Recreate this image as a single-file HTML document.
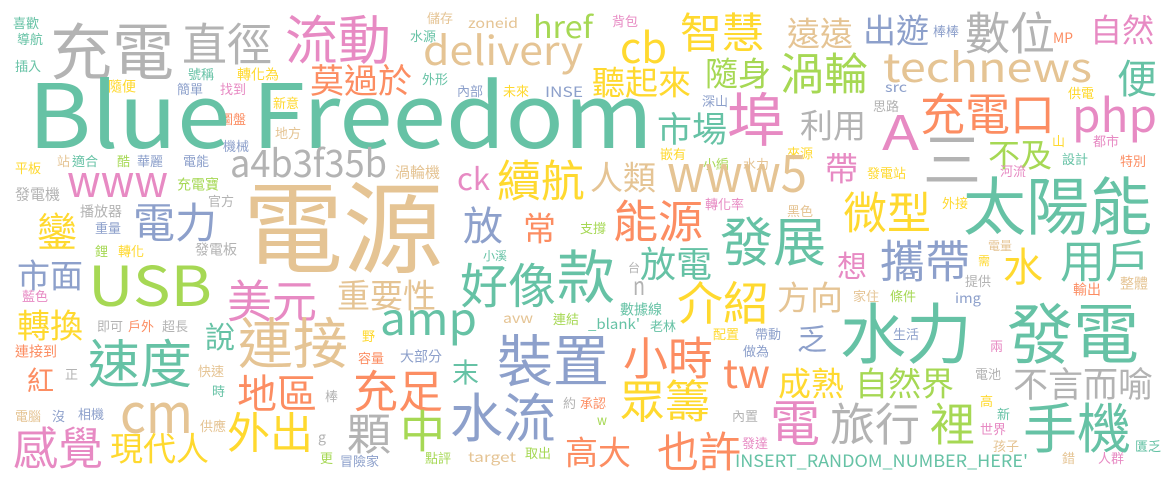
<!DOCTYPE html>
<html><head><meta charset="utf-8"><style>
html,body{margin:0;padding:0;background:#fff;width:1175px;height:482px;overflow:hidden}
svg{display:block}
text{font-family:"Noto Sans CJK TC","Liberation Sans",sans-serif;}
</style></head><body>
<svg id="cloud" width="1175" height="482" viewBox="0 0 1175 482"></svg>
<script>
// CJK words: text, x, glyph-top, size, colour key
const cjkWords = [
["電源",243,182,100,"N"],["充電",50,23,62,"R"],["直徑",182,23,45,"R"],["流動",285,15,53,"P"],
["莫過於",310,65,34,"O"],["鑾",37,213,40,"Y"],["電力",133,203,42,"B"],
["市面",17,260,33,"B"],["美元",227,280,45,"P"],["重要性",337,280,33,"N"],["轉換",17,310,33,"Y"],
["說",205,323,30,"T"],["連接",238,318,55,"N"],["速度",88,340,52,"T"],["紅",27,368,27,"O"],
["地區",237,375,40,"O"],["充足",353,370,45,"O"],["感覺",13,427,45,"P"],["現代人",110,433,33,"Y"],
["外出",227,413,43,"Y"],["顆",347,413,44,"R"],["中",400,410,45,"G"],["水流",450,393,53,"B"],
["裝置",497,335,56,"B"],["末",452,360,27,"T"],["好像",460,263,48,"T"],["款",557,250,58,"T"],
["放電",640,247,36,"T"],["小時",623,337,45,"O"],["眾籌",620,380,45,"Y"],["高大",565,437,33,"O"],
["也許",657,432,42,"O"],["聽起來",592,67,33,"Y"],["市場",657,113,35,"T"],["續航",497,160,44,"Y"],
["人類",590,162,33,"N"],["放",463,207,40,"B"],["常",523,213,33,"O"],["能源",613,200,45,"O"],
["智慧",680,13,42,"Y"],["遠遠",787,18,33,"N"],["出遊",863,15,33,"B"],["數位",965,12,45,"R"],
["自然",1090,15,32,"P"],["隨身",705,58,33,"G"],["渦輪",780,53,44,"G"],["便",1117,60,40,"T"],
["埠",727,93,58,"P"],["利用",800,110,33,"R"],["充電口",920,93,45,"O"],["不及",988,140,32,"G"],
["三",923,133,58,"R"],["帶",825,153,33,"P"],["太陽能",963,177,63,"T"],["微型",843,192,44,"Y"],
["發展",720,217,53,"T"],["想",837,252,30,"P"],["攜帶",880,240,45,"B"],["水",1003,248,40,"Y"],
["用戶",1060,240,45,"T"],["介紹",677,282,46,"Y"],["方向",777,282,33,"N"],["乏",797,325,30,"B"],
["水力",840,303,66,"T"],["發電",1007,303,66,"T"],["成熟",778,368,33,"Y"],["自然界",855,368,33,"G"],
["不言而喻",1013,368,35,"R"],["電",770,400,50,"P"],["旅行",830,403,45,"R"],["裡",930,403,45,"G"],
["手機",1023,403,54,"T"],
["喜歡",13,17,13,"T"],["導航",17,33,13,"T"],["插入",15,60,13,"T"],["號稱",188,68,13,"T"],
["轉化為",237,68,14,"Y"],["隨便",108,80,14,"Y"],["簡單",177,83,13,"B"],["找到",220,83,13,"P"],
["新意",273,97,13,"Y"],["圖盤",220,113,13,"O"],["地方",275,127,13,"N"],["機械",223,140,13,"B"],
["平板",15,162,13,"Y"],["站",57,155,13,"N"],["適合",72,155,13,"T"],["酷",117,155,13,"G"],
["華麗",137,155,13,"B"],["電能",183,155,13,"B"],["充電寶",177,178,14,"G"],["發電機",15,187,15,"R"],
["官方",208,195,13,"R"],["播放器",80,205,14,"R"],["重量",95,222,13,"B"],["鋰",95,245,13,"G"],
["轉化",118,245,13,"Y"],["發電板",195,243,14,"R"],["藍色",22,290,13,"P"],["即可",97,320,13,"R"],
["戶外",128,320,13,"O"],["超長",162,320,13,"R"],["連接到",15,345,14,"O"],["正",65,368,13,"R"],
["快速",198,365,13,"N"],["時",212,385,13,"T"],["容量",358,352,13,"O"],["野",362,330,13,"Y"],
["棒",325,390,13,"R"],["電腦",15,410,13,"N"],["沒",52,410,13,"B"],["相機",78,408,13,"B"],
["供應",200,420,13,"N"],["更",320,452,13,"G"],["冒險家",340,455,13,"B"],["儲存",427,12,13,"N"],
["水源",410,30,13,"T"],["背包",612,15,13,"P"],["外形",422,73,13,"T"],["內部",457,85,13,"B"],
["未來",503,85,13,"Y"],["嵌有",660,148,13,"Y"],["渦輪機",395,165,15,"N"],["支撐",580,222,13,"G"],
["小溪",483,250,12,"T"],["台",628,262,12,"R"],["數據線",620,303,14,"T"],["連結",553,313,13,"G"],
["老林",650,320,13,"T"],["大部分",400,350,14,"B"],["約",563,397,13,"R"],["承認",580,397,13,"O"],
["點評",425,452,13,"G"],["取出",525,447,13,"G"],["深山",702,95,13,"B"],["思路",873,100,13,"R"],
["供電",1068,87,13,"Y"],["棒棒",933,25,13,"B"],["山",1052,135,13,"Y"],["都市",1093,135,13,"P"],
["設計",1062,153,13,"T"],["特別",1120,155,13,"O"],["小編",703,158,13,"G"],["水力",743,158,13,"N"],
["來源",787,147,13,"Y"],["發電站",867,167,13,"Y"],["河流",1000,165,13,"P"],["轉化率",705,198,13,"P"],
["黑色",787,205,13,"N"],["外接",942,197,13,"Y"],["電量",988,240,12,"N"],["需",978,255,12,"Y"],
["提供",965,275,13,"R"],["整體",1120,277,14,"N"],["輸出",1073,283,14,"O"],["家住",853,290,13,"N"],
["條件",890,290,13,"G"],["配置",713,328,13,"Y"],["帶動",755,328,13,"B"],["做為",743,345,13,"B"],
["生活",893,328,13,"B"],["兩",990,340,13,"P"],["電池",975,368,13,"R"],["內置",732,410,13,"R"],
["高",980,395,13,"Y"],["新",997,408,13,"T"],["世界",980,423,13,"P"],["孩子",993,440,13,"N"],
["發達",742,437,13,"P"],["錯",1062,452,13,"N"],["人群",1098,452,13,"P"],["匱乏",1135,440,13,"T"]
];
// Latin words: text, x, baseline, size, colour key, width
const latinWords = [
["Blue Freedom",28,148,89,"T",625],["delivery",423,65,40,"N",160],["cb",620,63,42,"Y",47],
["href",533,38,30,"G",60],["technews",883,82,40,"N",209],["A",882,150,48,"P",37],
["php",1072,132,46,"P",85],["USB",88,306,55,"G",124],["www",67,197,44,"P",101],
["a4b3f35b",230,177,38,"R",157],["cm",120,433,55,"N",73],["amp",380,335,45,"T",97],
["www5",667,192,52,"N",140],["ck",457,190,30,"P",33],["n",633,295,25,"R",12],
["tw",723,388,40,"O",47],["zoneid",468,28,14,"N",50],["INSE",545,97,14,"B",38],
["src",885,92,14,"B",22],["img",955,303,14,"B",26],["_blank'",588,329,14,"T",52],
["avw",503,323,14,"N",30],["target",468,462,14,"N",48],["g",318,442,14,"R",8],
["w",597,425,14,"G",10],["MP",1053,43,14,"O",20],["INSERT_RANDOM_NUMBER_HERE'",735,467,17,"T",293]
];
const colors = {T:"#66c2a5",O:"#fc8d62",B:"#8da0cb",P:"#e78ac3",G:"#a6d854",Y:"#ffd92f",N:"#e5c494",R:"#b3b3b3"};
const svg = document.getElementById('cloud');
const NS = "http://www.w3.org/2000/svg";
cjkWords.forEach(w => {
  const t = document.createElementNS(NS, 'text');
  t.setAttribute('x', w[1]);
  t.setAttribute('y', w[2] + 0.83 * w[3]);
  t.setAttribute('font-size', w[3]);
  t.setAttribute('fill', colors[w[4]]);
  t.textContent = w[0];
  
  
  svg.appendChild(t);
});
latinWords.forEach(w => {
  const t = document.createElementNS(NS, 'text');
  t.setAttribute('x', w[1]);
  t.setAttribute('y', w[2]);
  t.setAttribute('font-size', w[3]);
  t.setAttribute('fill', colors[w[4]]);
  t.setAttribute('textLength', w[5]);
  t.setAttribute('lengthAdjust', 'spacingAndGlyphs');
  t.textContent = w[0];
  
  
  svg.appendChild(t);
});
</script>
</body></html>
